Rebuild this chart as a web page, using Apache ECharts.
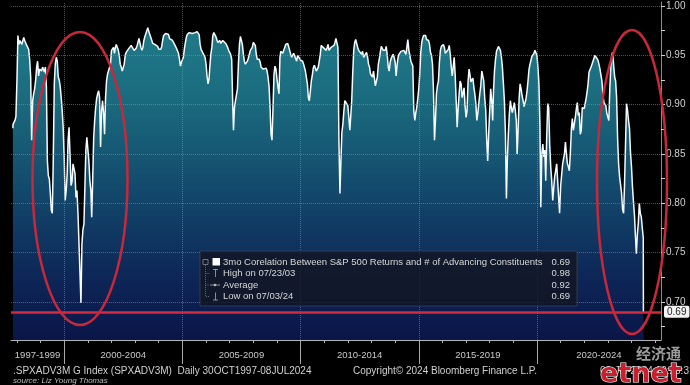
<!DOCTYPE html>
<html><head><meta charset="utf-8">
<script src="https://cdn.jsdelivr.net/npm/echarts@6/dist/echarts.min.js"></script>
<style>html,body{margin:0;padding:0;background:#000;}#c{width:690px;height:385px;}</style>
</head><body><div id="c"></div>
<script>
// ---- data: 3mo correlation, semi-monthly readings (1st & 16th of each month) ----
const firstDate = '1997-10-30', firstValue = 0.876;
const v1997 = [0.880, 0.878, 0.884, 0.888]; // Nov, Dec
const v1998 = [0.925, 0.970, 0.961, 0.965, 0.966, 0.961, 0.962, 0.968, 0.965, 0.963, 0.960, 0.958, 0.956, 0.946, 0.928, 0.864, 0.904, 0.911, 0.916, 0.924, 0.938, 0.944, 0.929, 0.936];
const v1999 = [0.936, 0.934, 0.938, 0.936, 0.933, 0.938, 0.918, 0.843, 0.828, 0.825, 0.810, 0.793, 0.790, 0.843, 0.921, 0.941, 0.948, 0.944, 0.928, 0.925, 0.918, 0.907, 0.894, 0.877];
const v2000 = [0.847, 0.803, 0.813, 0.830, 0.864, 0.877, 0.847, 0.818, 0.822, 0.840, 0.840, 0.830, 0.806, 0.813, 0.790, 0.790, 0.729, 0.699, 0.759, 0.773, 0.779, 0.817, 0.854, 0.867];
const v2001 = [0.867, 0.843, 0.823, 0.813, 0.786, 0.823, 0.867, 0.884, 0.897, 0.906, 0.911, 0.914, 0.907, 0.857, 0.894, 0.904, 0.891, 0.870, 0.907, 0.924, 0.931, 0.933, 0.933, 0.941];
const v2002 = [0.955, 0.956, 0.958, 0.952, 0.958, 0.961, 0.958, 0.955, 0.950, 0.941, 0.938, 0.934, 0.933, 0.941, 0.950, 0.953, 0.955, 0.956, 0.957, 0.955, 0.960, 0.961, 0.958, 0.955];
const v2003 = [0.955, 0.957, 0.960, 0.961, 0.967, 0.965, 0.958, 0.955, 0.958, 0.965, 0.969, 0.972, 0.975, 0.978, 0.974, 0.972, 0.968, 0.965, 0.962, 0.960, 0.961, 0.962, 0.963, 0.959];
const v2004 = [0.956, 0.955, 0.956, 0.959, 0.965, 0.970, 0.971, 0.972, 0.973, 0.973, 0.971, 0.967, 0.965, 0.966, 0.965, 0.963, 0.961, 0.959, 0.957, 0.955, 0.952, 0.946, 0.939, 0.943];
const v2005 = [0.945, 0.948, 0.957, 0.963, 0.968, 0.971, 0.973, 0.973, 0.971, 0.973, 0.972, 0.971, 0.972, 0.973, 0.974, 0.974, 0.975, 0.971, 0.961, 0.956, 0.954, 0.952, 0.950, 0.948];
const v2006 = [0.941, 0.929, 0.921, 0.926, 0.939, 0.951, 0.958, 0.970, 0.973, 0.971, 0.969, 0.966, 0.963, 0.964, 0.965, 0.962, 0.962, 0.965, 0.964, 0.963, 0.962, 0.961, 0.958, 0.955];
const v2007 = [0.955, 0.951, 0.946, 0.904, 0.874, 0.897, 0.904, 0.904, 0.916, 0.941, 0.961, 0.969, 0.970, 0.961, 0.951, 0.944, 0.941, 0.943, 0.944, 0.947, 0.951, 0.955, 0.956, 0.958];
const v2008 = [0.963, 0.965, 0.960, 0.951, 0.946, 0.945, 0.946, 0.943, 0.938, 0.937, 0.936, 0.934, 0.934, 0.937, 0.934, 0.928, 0.918, 0.897, 0.870, 0.864, 0.897, 0.931, 0.939, 0.936];
const v2009 = [0.926, 0.918, 0.911, 0.948, 0.954, 0.952, 0.952, 0.955, 0.958, 0.961, 0.963, 0.962, 0.961, 0.955, 0.951, 0.948, 0.950, 0.952, 0.953, 0.950, 0.944, 0.950, 0.951, 0.948];
const v2010 = [0.945, 0.943, 0.944, 0.941, 0.938, 0.934, 0.932, 0.921, 0.907, 0.904, 0.914, 0.924, 0.930, 0.937, 0.940, 0.939, 0.934, 0.934, 0.938, 0.944, 0.951, 0.960, 0.960, 0.958];
const v2011 = [0.957, 0.956, 0.955, 0.958, 0.961, 0.955, 0.955, 0.958, 0.957, 0.956, 0.960, 0.963, 0.967, 0.966, 0.958, 0.864, 0.810, 0.843, 0.872, 0.880, 0.894, 0.904, 0.906, 0.904];
const v2012 = [0.899, 0.887, 0.874, 0.872, 0.904, 0.931, 0.955, 0.963, 0.966, 0.965, 0.958, 0.955, 0.956, 0.955, 0.951, 0.954, 0.948, 0.946, 0.947, 0.953, 0.948, 0.941, 0.938, 0.931];
const v2013 = [0.929, 0.928, 0.934, 0.926, 0.919, 0.918, 0.928, 0.941, 0.946, 0.953, 0.959, 0.961, 0.955, 0.953, 0.955, 0.959, 0.950, 0.938, 0.934, 0.943, 0.947, 0.948, 0.951, 0.948];
const v2014 = [0.943, 0.929, 0.941, 0.948, 0.951, 0.952, 0.954, 0.955, 0.956, 0.955, 0.953, 0.951, 0.958, 0.966, 0.955, 0.950, 0.944, 0.945, 0.939, 0.894, 0.884, 0.892, 0.897, 0.906];
const v2015 = [0.916, 0.931, 0.953, 0.963, 0.967, 0.970, 0.971, 0.970, 0.966, 0.965, 0.965, 0.961, 0.953, 0.950, 0.941, 0.914, 0.864, 0.884, 0.911, 0.919, 0.924, 0.943, 0.955, 0.959];
const v2016 = [0.960, 0.961, 0.958, 0.952, 0.953, 0.954, 0.956, 0.960, 0.951, 0.939, 0.929, 0.938, 0.948, 0.931, 0.904, 0.877, 0.897, 0.911, 0.924, 0.921, 0.907, 0.912, 0.917, 0.899];
const v2017 = [0.887, 0.894, 0.924, 0.936, 0.931, 0.923, 0.924, 0.927, 0.918, 0.911, 0.901, 0.884, 0.891, 0.901, 0.911, 0.919, 0.934, 0.933, 0.924, 0.907, 0.894, 0.864, 0.843, 0.870];
const v2018 = [0.894, 0.916, 0.904, 0.884, 0.914, 0.934, 0.946, 0.954, 0.955, 0.959, 0.959, 0.955, 0.948, 0.938, 0.921, 0.904, 0.870, 0.805, 0.845, 0.870, 0.891, 0.904, 0.897, 0.892];
const v2019 = [0.897, 0.902, 0.894, 0.884, 0.850, 0.874, 0.907, 0.921, 0.916, 0.909, 0.904, 0.898, 0.900, 0.906, 0.914, 0.924, 0.936, 0.941, 0.945, 0.949, 0.951, 0.952, 0.955, 0.956];
const v2020 = [0.950, 0.938, 0.921, 0.880, 0.796, 0.850, 0.860, 0.847, 0.854, 0.823, 0.870, 0.901, 0.897, 0.860, 0.837, 0.823, 0.803, 0.803, 0.827, 0.833, 0.840, 0.823, 0.806, 0.790];
const v2021 = [0.817, 0.828, 0.840, 0.840, 0.850, 0.862, 0.850, 0.840, 0.837, 0.833, 0.852, 0.875, 0.886, 0.874, 0.876, 0.887, 0.896, 0.902, 0.889, 0.892, 0.870, 0.874, 0.897, 0.899];
const v2022 = [0.896, 0.894, 0.907, 0.914, 0.921, 0.933, 0.934, 0.938, 0.941, 0.944, 0.946, 0.950, 0.950, 0.948, 0.945, 0.941, 0.936, 0.930, 0.924, 0.911, 0.902, 0.902, 0.899, 0.891];
const v2023 = [0.889, 0.884, 0.918, 0.939, 0.950, 0.953, 0.939, 0.928, 0.924, 0.907, 0.864, 0.840, 0.827, 0.828, 0.810, 0.794, 0.790, 0.820, 0.860, 0.901, 0.894, 0.884, 0.876, 0.852];
const v2024 = [0.837, 0.817, 0.801, 0.788, 0.768, 0.749, 0.769, 0.780, 0.800, 0.790, 0.786, 0.775, 0.765];
const lastDates = ['2024-07-03', '2024-07-08'];
const lastValues = [0.69, 0.69];

const years = [[1997, 10, v1997], [1998, 0, v1998], [1999, 0, v1999], [2000, 0, v2000], [2001, 0, v2001],
  [2002, 0, v2002], [2003, 0, v2003], [2004, 0, v2004], [2005, 0, v2005], [2006, 0, v2006], [2007, 0, v2007],
  [2008, 0, v2008], [2009, 0, v2009], [2010, 0, v2010], [2011, 0, v2011], [2012, 0, v2012], [2013, 0, v2013],
  [2014, 0, v2014], [2015, 0, v2015], [2016, 0, v2016], [2017, 0, v2017], [2018, 0, v2018], [2019, 0, v2019],
  [2020, 0, v2020], [2021, 0, v2021], [2022, 0, v2022], [2023, 0, v2023], [2024, 0, v2024]];

// ---- axis / text content ----
const axisStart = '1997-10-01', axisEnd = '2025-04-01';
const periodLabels = ['1997-1999', '2000-2004', '2005-2009', '2010-2014', '2015-2019', '2020-2024'];
const periodCenters = ['1998-11-15', '2002-07-02', '2007-07-02', '2012-07-02', '2017-07-02', '2022-08-16'];
const separatorYears = [2000, 2005, 2010, 2015, 2020];
const yLabels = [0.70, 0.75, 0.80, 0.85, 0.90, 0.95, 1.00];
const yMinor = [0.675, 0.725, 0.775, 0.825, 0.875, 0.925, 0.975];
const lastValueLabel = '0.69';
const legendTitle = '3mo Corelation Between S&P 500 Returns and # of Advancing Constituents';
const legendRows = ['High on 07/23/03', 'Average', 'Low on 07/03/24'];
const legendValues = ['0.69', '0.98', '0.92', '0.69'];

const ts = s => Date.parse(s + 'T00:00:00Z');
const data = [[ts(firstDate), firstValue]];
years.forEach(([yr, m0, vals]) => vals.forEach((v, i) => {
  data.push([Date.UTC(yr, m0 + Math.floor(i / 2), i % 2 ? 16 : 1), v]);
}));
lastDates.forEach((d, i) => data.push([ts(d), lastValues[i]]));

const xMin = ts(axisStart), xMax = ts(axisEnd);
const yearTicks = [];
for (let y = 1998; y <= 2025; y++) yearTicks.push(Date.UTC(y, 0, 1));
const sepTicks = separatorYears.map(y => Date.UTC(y, 0, 1));
const centerTs = periodCenters.map(ts);

const chart = echarts.init(document.getElementById('c'), null, {renderer: 'canvas'});
const FONT = '"Liberation Sans", Arial, sans-serif';
const gridLine = {type: 'dotted', color: 'rgba(150,150,150,0.55)', width: 1};

const legendGraphics = [];
const rowY = [262, 273.5, 285, 296.5];
legendGraphics.push({type: 'rect', shape: {x: 200, y: 251, width: 377, height: 55},
  style: {fill: 'rgba(18,22,34,0.82)', stroke: 'rgba(80,90,110,0.5)', lineWidth: 1}, z: 50});
legendGraphics.push({type: 'rect', shape: {x: 203, y: 259.5, width: 5, height: 5},
  style: {fill: 'none', stroke: '#8a8a8a', lineWidth: 0.8}, z: 51});
legendGraphics.push({type: 'polyline', shape: {points: [[205.5, 265], [205.5, 296.5], [210, 296.5]]},
  style: {stroke: '#777', lineWidth: 0.8, lineDash: [1, 1], fill: 'none'}, z: 51});
legendGraphics.push({type: 'line', shape: {x1: 205.5, y1: 273.5, x2: 210, y2: 273.5}, style: {stroke: '#777', lineWidth: 0.8, lineDash: [1, 1]}, z: 51});
legendGraphics.push({type: 'line', shape: {x1: 205.5, y1: 285, x2: 209, y2: 285}, style: {stroke: '#777', lineWidth: 0.8, lineDash: [1, 1]}, z: 51});
legendGraphics.push({type: 'rect', shape: {x: 212.5, y: 258, width: 7.5, height: 7.5}, style: {fill: '#ffffff'}, z: 51});
legendGraphics.push({type: 'line', shape: {x1: 213, y1: 269.5, x2: 218, y2: 269.5}, style: {stroke: '#aaa', lineWidth: 0.8}, z: 51});
legendGraphics.push({type: 'line', shape: {x1: 215.5, y1: 269.5, x2: 215.5, y2: 277}, style: {stroke: '#aaa', lineWidth: 0.8}, z: 51});
legendGraphics.push({type: 'line', shape: {x1: 210, y1: 285, x2: 220, y2: 285}, style: {stroke: '#aaa', lineWidth: 0.8}, z: 51});
legendGraphics.push({type: 'circle', shape: {cx: 215, cy: 285, r: 1.3}, style: {fill: '#bbb'}, z: 51});
legendGraphics.push({type: 'line', shape: {x1: 215.5, y1: 292.5, x2: 215.5, y2: 300}, style: {stroke: '#aaa', lineWidth: 0.8}, z: 51});
legendGraphics.push({type: 'line', shape: {x1: 213, y1: 300, x2: 218, y2: 300}, style: {stroke: '#aaa', lineWidth: 0.8}, z: 51});
[legendTitle].concat(legendRows).forEach((t, i) => {
  legendGraphics.push({type: 'text', z: 52, style: {text: t, x: 223, y: rowY[i], fill: '#d6d6d6',
    font: '9.5px ' + FONT, textVerticalAlign: 'middle'}});
  legendGraphics.push({type: 'text', z: 52, style: {text: legendValues[i], x: 570, y: rowY[i], fill: '#d6d6d6',
    font: '9.5px ' + FONT, textAlign: 'right', textVerticalAlign: 'middle'}});
});

const nearestPeriod = v => { let b = 0, bd = Infinity; centerTs.forEach((c, i) => { const d = Math.abs(c - v); if (d < bd) { bd = d; b = i; } }); return periodLabels[b]; };

const option = {
  backgroundColor: '#000',
  animation: false,
  grid: {left: 11, right: 29, top: 2, bottom: 45, containLabel: false},
  xAxis: [{
    type: 'value', min: xMin, max: xMax, position: 'bottom', scale: true,
    axisLine: {show: true, onZero: false, lineStyle: {color: '#b5b5b5', width: 1}},
    axisTick: {show: true, customValues: yearTicks, length: 3, lineStyle: {color: '#b5b5b5'}},
    axisLabel: {show: true, customValues: centerTs, color: '#c8c8c8', fontSize: 9.5, fontFamily: FONT, margin: 10,
      formatter: v => nearestPeriod(v)},
    splitLine: {show: false}
  }, {
    type: 'value', min: xMin, max: xMax, position: 'bottom', scale: true,
    axisLine: {show: false, onZero: false},
    axisTick: {show: true, customValues: sepTicks, length: 24, lineStyle: {color: '#a8a8a8'}},
    axisLabel: {show: false}, splitLine: {show: false}
  }],
  yAxis: {
    type: 'value', position: 'right', min: 0.6615, max: 1.004, scale: true,
    axisLine: {show: true, onZero: false, lineStyle: {color: '#8c8c8c'}},
    axisTick: {show: true, customValues: yLabels.concat(yMinor), length: 4, lineStyle: {color: '#d0d0d0'}},
    axisLabel: {show: true, customValues: yLabels, color: '#cfcfcf', fontSize: 10, fontFamily: FONT, margin: 5,
      formatter: v => v.toFixed(2)},
    splitLine: {show: false}
  },
  series: [{
    type: 'line', data: data, symbol: 'none', z: 2, silent: true,
    lineStyle: {width: 0},
    areaStyle: {origin: 'start', opacity: 1, color: new echarts.graphic.LinearGradient(0, 0, 0, 340, [
      {offset: 0, color: '#22818d'}, {offset: 0.3, color: '#1a6a7d'}, {offset: 0.55, color: '#134a6d'},
      {offset: 0.8, color: '#0d2858'}, {offset: 1, color: '#0a1548'}], true)}
  }, {
    type: 'line', data: data, symbol: 'none', z: 3, silent: true, lineStyle: {opacity: 0},
    markLine: {silent: true, symbol: 'none', label: {show: false}, lineStyle: gridLine, animation: false,
      data: yLabels.map(v => ({yAxis: v})).concat(sepTicks.map(t => ({xAxis: t})))}
  }, {
    type: 'line', data: data, symbol: 'none', z: 4, silent: true,
    lineStyle: {color: '#f6fbff', width: 1.5}
  }, {
    type: 'line', data: data, symbol: 'none', z: 6, silent: true, lineStyle: {opacity: 0},
    markLine: {silent: true, symbol: 'none', animation: false,
      lineStyle: {color: '#d42a3c', width: 2.5, type: 'solid'},
      label: {show: true, position: 'end', formatter: lastValueLabel, backgroundColor: '#f4f4f4', color: '#222',
        fontSize: 10, fontFamily: FONT, padding: [1, 3, 1, 3], borderRadius: 2, distance: 3},
      data: [{yAxis: lastValues[lastValues.length - 1]}]}
  }],
  graphic: [
    {type: 'ellipse', z: 100, silent: true, shape: {cx: 80, cy: 178.5, rx: 47.5, ry: 146.5},
      style: {fill: 'none', stroke: '#c8283a', lineWidth: 2.5}},
    {type: 'ellipse', z: 100, silent: true, shape: {cx: 632, cy: 182, rx: 35, ry: 152},
      style: {fill: 'none', stroke: '#c8283a', lineWidth: 2.5}},
    ...legendGraphics,
    {type: 'text', z: 60, style: {text: '.SPXADV3M G Index (SPXADV3M)  Daily 30OCT1997-08JUL2024', x: 13, y: 371,
      fill: '#d0d0d0', font: '10px ' + FONT, textVerticalAlign: 'middle'}},
    {type: 'text', z: 60, style: {text: 'Copyright\u00a9 2024 Bloomberg Finance L.P.', x: 353, y: 371,
      fill: '#d0d0d0', font: '10px ' + FONT, textVerticalAlign: 'middle'}},
    {type: 'text', z: 60, style: {text: '08-Jul-2024 10:23:31', x: 600, y: 371,
      fill: '#d0d0d0', font: '10px ' + FONT, textVerticalAlign: 'middle'}},
    {type: 'text', z: 60, style: {text: 'source: Liz Young Thomas', x: 13, y: 381,
      fill: '#bdbdbd', font: 'italic 8px ' + FONT, textVerticalAlign: 'middle'}},
    {type: 'text', z: 110, style: {text: '经济通', x: 636, y: 353, fill: '#9c9c9c',
      font: 'bold 15px "Noto Sans CJK SC"', textVerticalAlign: 'middle'}},
    {type: 'text', z: 110, style: {text: 'etnet', x: 600, y: 375, fill: '#cc1f2d', stroke: '#ffffff', lineWidth: 1.2,
      font: 'bold 27px "DejaVu Sans"', textVerticalAlign: 'middle'}}
  ]
};
chart.setOption(option);
</script>
</body></html>
